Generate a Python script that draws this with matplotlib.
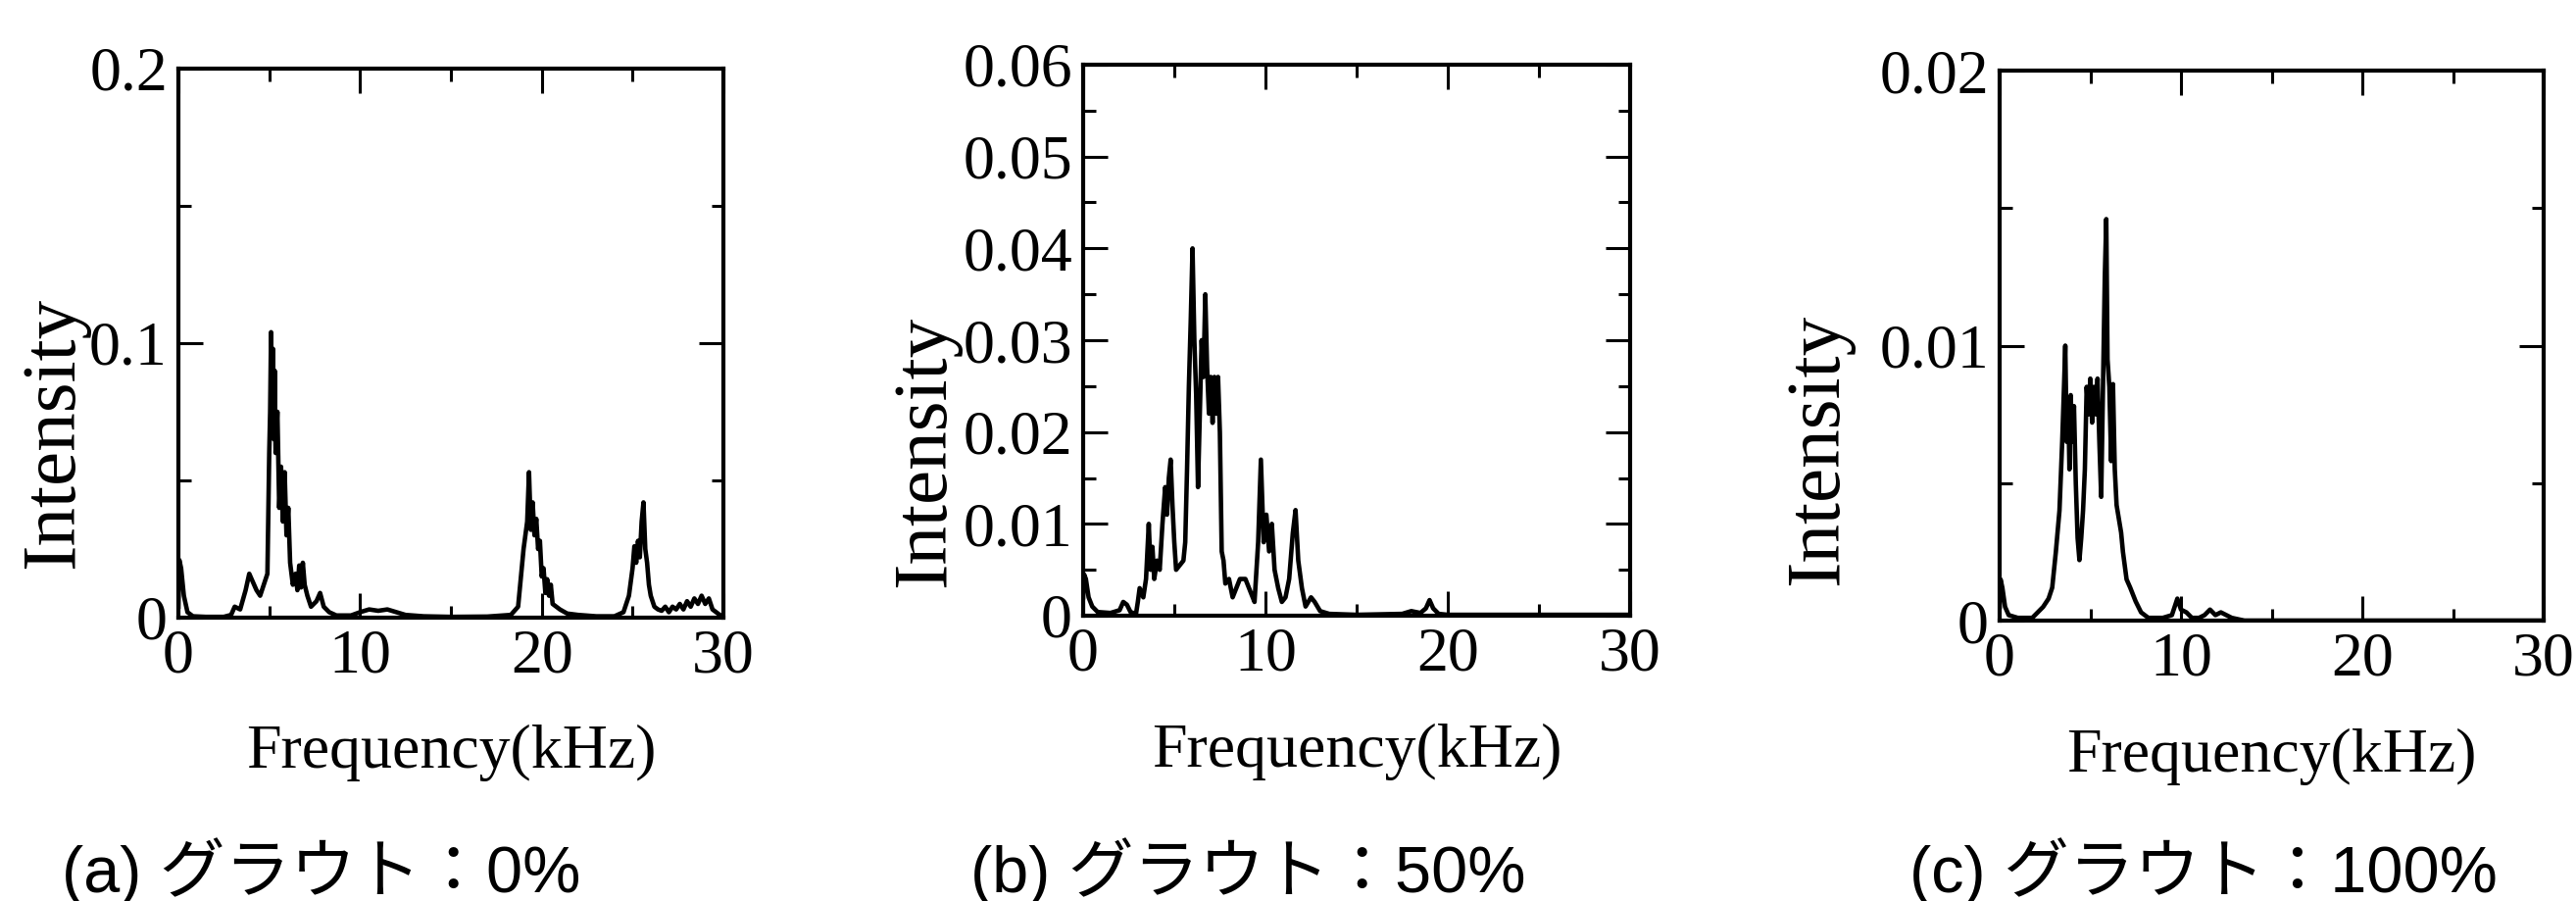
import matplotlib

matplotlib.use("Agg")
from matplotlib import pyplot as plt
from matplotlib.ticker import FuncFormatter, MultipleLocator

plt.rcParams["font.family"] = ["Liberation Serif", "DejaVu Serif"]

# spectra: (frequency kHz, intensity)
spectrum_a = [
    (0.0, 0.004), (0.05, 0.021), (0.15, 0.018), (0.3, 0.008), (0.5, 0.002),
    (0.8, 0.0005), (1.5, 0.0003), (2.5, 0.0003), (2.9, 0.001), (3.1, 0.004),
    (3.4, 0.003), (3.7, 0.010), (3.9, 0.016), (4.1, 0.013), (4.3, 0.010),
    (4.5, 0.008), (4.7, 0.012), (4.9, 0.016), (5.0, 0.060), (5.05, 0.075),
    (5.1, 0.104), (5.15, 0.070), (5.2, 0.098), (5.25, 0.065), (5.3, 0.090),
    (5.35, 0.060), (5.45, 0.075), (5.55, 0.040), (5.65, 0.055), (5.75, 0.035),
    (5.85, 0.053), (5.95, 0.030), (6.05, 0.040), (6.15, 0.020), (6.3, 0.012),
    (6.45, 0.016), (6.55, 0.010), (6.65, 0.019), (6.75, 0.011), (6.85, 0.020),
    (6.95, 0.012), (7.1, 0.008), (7.3, 0.004), (7.6, 0.006), (7.8, 0.009),
    (8.0, 0.004), (8.3, 0.002), (8.7, 0.0008), (9.5, 0.0008), (10.0, 0.002),
    (10.5, 0.003), (11.0, 0.0025), (11.5, 0.003), (12.0, 0.002), (12.5, 0.001),
    (13.5, 0.0005), (15.0, 0.0003), (17.0, 0.0004), (18.3, 0.001), (18.7, 0.004),
    (19.0, 0.025), (19.1, 0.030), (19.2, 0.035), (19.3, 0.053), (19.4, 0.032),
    (19.5, 0.042), (19.6, 0.030), (19.7, 0.036), (19.8, 0.025), (19.9, 0.028),
    (20.0, 0.015), (20.1, 0.018), (20.2, 0.009), (20.3, 0.014), (20.4, 0.008),
    (20.5, 0.012), (20.6, 0.005), (20.8, 0.004), (21.0, 0.003), (21.4, 0.0015),
    (22.0, 0.001), (23.0, 0.0005), (24.0, 0.0005), (24.5, 0.002), (24.8, 0.008),
    (25.0, 0.018), (25.1, 0.026), (25.2, 0.020), (25.3, 0.028), (25.4, 0.022),
    (25.5, 0.035), (25.6, 0.042), (25.7, 0.025), (25.8, 0.020), (25.9, 0.012),
    (26.0, 0.008), (26.2, 0.004), (26.4, 0.003), (26.6, 0.0025), (26.8, 0.004),
    (27.0, 0.002), (27.2, 0.004), (27.4, 0.003), (27.6, 0.005), (27.8, 0.003),
    (28.0, 0.006), (28.2, 0.004), (28.4, 0.007), (28.6, 0.005), (28.8, 0.008),
    (29.0, 0.005), (29.2, 0.007), (29.4, 0.003), (29.6, 0.002), (29.8, 0.001),
    (30.0, 0.0005),
]

spectrum_b = [
    (0.0, 0.002), (0.05, 0.0045), (0.15, 0.004), (0.3, 0.002), (0.5, 0.001),
    (0.8, 0.0004), (1.5, 0.0003), (2.0, 0.0006), (2.2, 0.0015), (2.4, 0.0012),
    (2.6, 0.0004), (2.9, 0.0002), (3.0, 0.0015), (3.1, 0.003), (3.3, 0.002),
    (3.45, 0.004), (3.6, 0.010), (3.7, 0.005), (3.8, 0.0075), (3.9, 0.004),
    (4.05, 0.006), (4.2, 0.005), (4.35, 0.010), (4.5, 0.014), (4.6, 0.011),
    (4.7, 0.015), (4.8, 0.017), (4.9, 0.012), (5.0, 0.008), (5.1, 0.005),
    (5.3, 0.0055), (5.5, 0.006), (5.6, 0.008), (5.7, 0.016), (5.8, 0.025),
    (5.9, 0.032), (6.0, 0.040), (6.1, 0.030), (6.2, 0.024), (6.3, 0.014),
    (6.4, 0.022), (6.5, 0.030), (6.6, 0.026), (6.7, 0.035), (6.8, 0.027),
    (6.9, 0.022), (7.0, 0.026), (7.1, 0.021), (7.2, 0.026), (7.3, 0.022),
    (7.4, 0.026), (7.5, 0.020), (7.6, 0.007), (7.7, 0.006), (7.8, 0.0035),
    (8.0, 0.004), (8.2, 0.002), (8.4, 0.003), (8.6, 0.004), (8.9, 0.004),
    (9.2, 0.0025), (9.4, 0.0015), (9.6, 0.008), (9.75, 0.017), (9.9, 0.008),
    (10.05, 0.011), (10.2, 0.007), (10.35, 0.010), (10.5, 0.005), (10.7, 0.003),
    (10.9, 0.0015), (11.1, 0.002), (11.3, 0.004), (11.5, 0.009), (11.65, 0.0115),
    (11.8, 0.006), (12.0, 0.003), (12.2, 0.001), (12.5, 0.002), (12.7, 0.0015),
    (13.0, 0.0005), (13.5, 0.0002), (15.0, 0.0001), (17.5, 0.0002), (18.0, 0.0005),
    (18.5, 0.0003), (18.8, 0.0008), (19.0, 0.0017), (19.2, 0.0008), (19.5, 0.0002),
    (20.0, 0.0001), (25.0, 0.0001), (30.0, 0.0001),
]

spectrum_c = [
    (0.0, 0.0005), (0.05, 0.0015), (0.15, 0.0012), (0.3, 0.0005), (0.5, 0.0002),
    (1.0, 0.0001), (1.8, 0.0001), (2.1, 0.0003), (2.4, 0.0005), (2.7, 0.0008),
    (2.9, 0.0012), (3.1, 0.0025), (3.3, 0.004), (3.45, 0.0065), (3.55, 0.0085),
    (3.62, 0.010), (3.7, 0.0065), (3.78, 0.008), (3.85, 0.0055), (3.92, 0.0082),
    (4.0, 0.0065), (4.1, 0.0078), (4.2, 0.005), (4.3, 0.003), (4.4, 0.0022),
    (4.5, 0.003), (4.6, 0.004), (4.7, 0.0055), (4.8, 0.0085), (4.9, 0.0075),
    (5.0, 0.0088), (5.1, 0.0072), (5.2, 0.0085), (5.3, 0.0075), (5.4, 0.0088),
    (5.5, 0.0065), (5.6, 0.0045), (5.7, 0.0085), (5.8, 0.0125), (5.88, 0.0146),
    (5.95, 0.0095), (6.05, 0.0085), (6.15, 0.0058), (6.25, 0.0086), (6.35, 0.0055),
    (6.45, 0.0042), (6.55, 0.0038), (6.7, 0.0032), (6.8, 0.0025), (7.0, 0.0015),
    (7.2, 0.0012), (7.5, 0.0007), (7.8, 0.0003), (8.2, 0.0001), (9.0, 0.0001),
    (9.5, 0.0002), (9.8, 0.0008), (10.0, 0.0004), (10.3, 0.0003), (10.6, 0.0001),
    (11.0, 0.0001), (11.3, 0.0002), (11.6, 0.0004), (11.9, 0.0002), (12.2, 0.0003),
    (12.5, 0.0002), (12.8, 0.0001), (13.5, 0.0), (20.0, 0.0), (30.0, 0.0),
]

y_max = [0.2, 0.06, 0.02]
y_major = [0.1, 0.01, 0.01]
y_minor = [0.05, 0.005, 0.005]
captions = ["(a) グラウト：0%", "(b) グラウト：50%", "(c) グラウト：100%"]

xlabel = "Frequency(kHz)"
ylabel = "Intensity"


def spectrum_plot(fig, rect, spectrum, ymax, ymajor, yminor, ylabel_xy, caption, caption_x):
    ax = fig.add_axes(rect)

    freq = [p[0] for p in spectrum]
    inten = [p[1] for p in spectrum]
    ax.plot(freq, inten, color="black", linewidth=3.3)

    ax.set_xlim(0, 30)
    ax.set_ylim(0, ymax)
    ax.xaxis.set_major_locator(MultipleLocator(10))
    ax.xaxis.set_minor_locator(MultipleLocator(5))
    ax.yaxis.set_major_locator(MultipleLocator(ymajor))
    ax.yaxis.set_minor_locator(MultipleLocator(yminor))
    ax.yaxis.set_major_formatter(FuncFormatter(lambda v, pos: "{:g}".format(round(v, 4))))

    ax.tick_params(which="both", direction="in", top=True, right=True, width=2.2)
    ax.tick_params(which="major", length=18, labelsize=46)
    ax.tick_params(which="minor", length=9)
    ax.tick_params(axis="x", pad=8)
    ax.tick_params(axis="y", pad=8)
    for spine in ax.spines.values():
        spine.set_linewidth(3)

    ax.set_xlabel(xlabel, fontsize=46)
    ax.xaxis.set_label_coords(0.5, -0.195)
    ax.set_ylabel(ylabel, fontsize=57, va="center")
    ax.yaxis.set_label_coords(*ylabel_xy)

    fig.text(caption_x, 0.01, caption, fontsize=48, va="baseline",
             family=["Liberation Sans", "Noto Sans CJK JP", "DejaVu Sans"])
    return ax


if __name__ == "__main__":
    fig = plt.figure(figsize=(26.28, 9.19), dpi=100)
    W, H = 2628.0, 919.0

    # axes boxes in pixels: left, right, top, bottom
    boxes = [(182, 738, 70, 630), (1105, 1663, 66, 628), (2040, 2595, 72, 633)]
    ylabel_pos = [(-0.227, 0.336), (-0.287, 0.299), (-0.333, 0.312)]
    caption_pos = [63, 990, 1948]
    spectra = [spectrum_a, spectrum_b, spectrum_c]

    for i, (l, r, t, b) in enumerate(boxes):
        rect = [l / W, (H - b) / H, (r - l) / W, (b - t) / H]
        spectrum_plot(fig, rect, spectra[i], y_max[i], y_major[i], y_minor[i],
                      ylabel_pos[i], captions[i], caption_pos[i] / W)

    fig.savefig("out.png", dpi=100)
    plt.close(fig)
